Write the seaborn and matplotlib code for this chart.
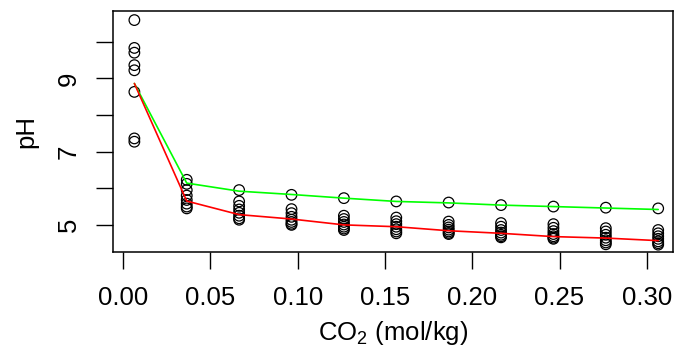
import numpy as np
import pandas as pd
import matplotlib
matplotlib.use("Agg")
import matplotlib.pyplot as plt
import seaborn as sns

# CO2 levels (mol/kg)
co2 = [0.0065, 0.0365, 0.0665, 0.0965, 0.1265, 0.1565, 0.1865, 0.2165, 0.2465, 0.2765, 0.3065]

# observed pH, 8 per CO2 level
ph_obs = [
    [10.59, 9.83, 9.70, 9.36, 9.22, 8.63, 7.36, 7.27],
    [6.23, 6.12, 5.95, 5.80, 5.68, 5.58, 5.50, 5.45],
    [5.95, 5.64, 5.52, 5.42, 5.33, 5.25, 5.18, 5.14],
    [5.82, 5.43, 5.32, 5.22, 5.14, 5.08, 5.03, 5.00],
    [5.73, 5.25, 5.16, 5.08, 5.01, 4.95, 4.90, 4.86],
    [5.64, 5.20, 5.10, 5.02, 4.95, 4.88, 4.82, 4.77],
    [5.61, 5.09, 5.00, 4.93, 4.87, 4.82, 4.78, 4.75],
    [5.54, 5.05, 4.95, 4.86, 4.79, 4.73, 4.69, 4.66],
    [5.50, 5.02, 4.92, 4.83, 4.75, 4.69, 4.65, 4.62],
    [5.47, 4.91, 4.82, 4.73, 4.65, 4.58, 4.52, 4.47],
    [5.45, 4.86, 4.77, 4.69, 4.62, 4.55, 4.50, 4.46],
]

# fitted curves
ph_green = [8.86, 6.14, 5.92, 5.83, 5.73, 5.64, 5.60, 5.54, 5.50, 5.46, 5.42]
ph_red = [8.86, 5.65, 5.28, 5.16, 5.00, 4.95, 4.84, 4.77, 4.68, 4.64, 4.57]

pts = pd.DataFrame([(c, p) for c, row in zip(co2, ph_obs) for p in row], columns=["co2", "ph"])
curves = pd.DataFrame({"co2": co2, "green": ph_green, "red": ph_red})

sns.set_style("ticks")
plt.rcParams["font.family"] = ["Liberation Sans", "DejaVu Sans"]
plt.rcParams["mathtext.fontset"] = "custom"
plt.rcParams["mathtext.rm"] = "Liberation Sans"
plt.rcParams["text.color"] = "black"
plt.rcParams["axes.labelcolor"] = "black"
plt.rcParams["xtick.color"] = "black"
plt.rcParams["ytick.color"] = "black"

fig = plt.figure(figsize=(6.79, 3.49), dpi=100)
ax = fig.add_axes([0.166, 0.279, 0.8247, 0.6897])

sns.scatterplot(data=pts, x="co2", y="ph", ax=ax, marker="o", s=58,
                facecolor="none", edgecolor="black", linewidth=0.9, zorder=2, legend=False)
sns.lineplot(data=curves, x="co2", y="green", ax=ax, color="#00ff00", lw=1.2, zorder=3)
sns.lineplot(data=curves, x="co2", y="red", ax=ax, color="#ff0000", lw=1.2, zorder=3)

ax.set_xlim(-0.0059, 0.3148)
ax.set_ylim(4.27, 10.84)
ax.set_xticks([0.0, 0.05, 0.10, 0.15, 0.20, 0.25, 0.30])
ax.set_xticklabels(["0.00", "0.05", "0.10", "0.15", "0.20", "0.25", "0.30"])
ax.set_yticks([5, 6, 7, 8, 9, 10])
ax.set_yticklabels(["5", "", "7", "", "9", ""], rotation=90, va="center")

ax.tick_params(axis="both", length=12, width=1, labelsize=18.5, labelcolor="black")
ax.tick_params(axis="x", pad=13)
ax.tick_params(axis="y", pad=11)
for s in ax.spines.values():
    s.set_visible(True)
    s.set_color("black")
    s.set_linewidth(1.1)

ax.set_xlabel(r"CO$_\mathregular{2}$ (mol/kg)", fontsize=18.5, labelpad=6)
ax.set_ylabel("pH", fontsize=18.5, labelpad=13)

fig.savefig("out.png", dpi=100)
